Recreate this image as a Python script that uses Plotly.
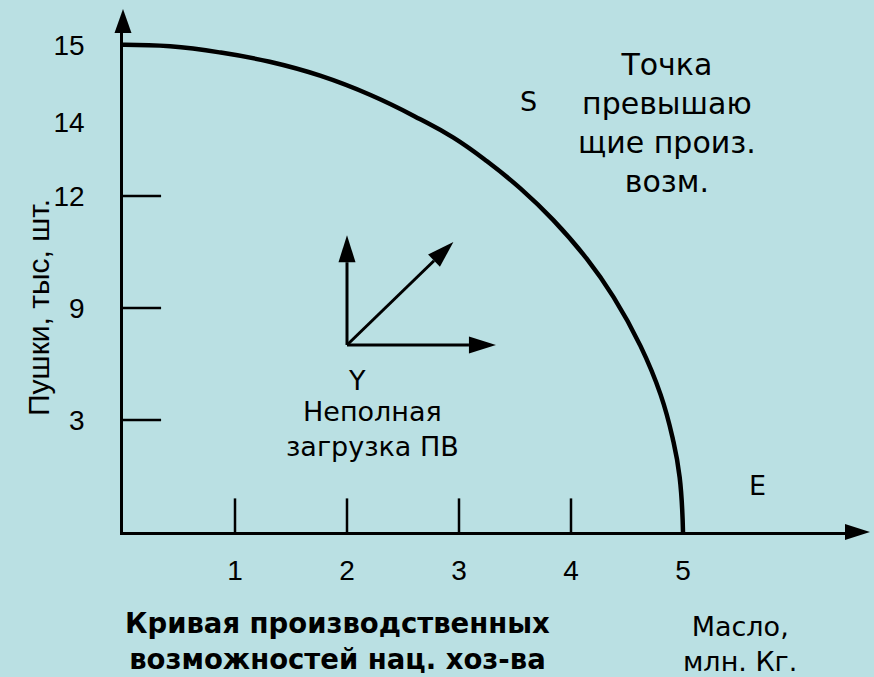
import numpy as np
import plotly.graph_objects as go

# ---------------- data ----------------
# production possibility curve: oil (mln kg) vs guns (thousand pcs)
oil = [0.0, 0.42, 0.87, 1.31, 1.76, 2.21, 2.65, 2.95, 3.25, 3.55, 3.84, 4.14,
       4.38, 4.62, 4.80, 4.91, 4.97, 5.0]
guns = [15.0, 14.98, 14.90, 14.78, 14.60, 14.35, 14.04, 13.58, 12.94, 12.20,
        11.36, 10.32, 9.29, 6.97, 4.36, 2.48, 1.47, 0.0]

oil_tick_vals = [1, 2, 3, 4, 5]
oil_tick_text = ["1", "2", "3", "4", "5"]
oil_tick_marks = [1, 2, 3, 4]

guns_tick_vals = [3, 9, 12, 14, 15]
guns_tick_text = ["3", "9", "12", "14", "15"]
guns_tick_marks = [3, 9, 12]

# the guns axis of the original is not linear: value -> axis position
guns_scale_vals = [0, 3, 9, 12, 14, 15]
guns_scale_pos = [0, 1, 2, 3, 3.66, 4.35]


def gpos(v):
    return np.interp(v, guns_scale_vals, guns_scale_pos)


# ---------------- geometry ----------------
FW, FH = 874, 677
L, T, R, B = 123, 30, 24, 145
W, H = FW - L - R, FH - T - B
UNIT = 112.0
BG = "#BAE0E3"
FONT = "Liberation Sans, Arial, sans-serif"
WFONT = "DejaVu Sans, Liberation Sans, sans-serif"


def px(x):
    return L + x * UNIT


def py(y):
    return T + H - y * UNIT


def pap_x(p):
    return (p - L) / W


def pap_y(p):
    return (T + H - p) / H


def tri_path(tip, vec, length, width):
    v = np.array(vec, float)
    v = v / np.linalg.norm(v)
    n = np.array([-v[1], v[0]])
    tip = np.array(tip, float)
    base = tip - v * length
    p1 = base + n * width / 2
    p2 = base - n * width / 2
    pts = [tip, p1, p2]
    s = "M " + " L ".join(f"{pap_x(p[0]):.5f},{pap_y(p[1]):.5f}" for p in pts) + " Z"
    return s, base


fig = go.Figure()

# curve
fig.add_trace(go.Scatter(
    x=oil, y=gpos(guns), mode="lines",
    line=dict(color="black", width=4.5, shape="spline", smoothing=1.3),
    cliponaxis=False, hoverinfo="skip", showlegend=False))

# tick marks
tx, ty = [], []
for t in oil_tick_marks:
    tx += [t, t, None]
    ty += [0, 0.30, None]
for g in guns_tick_marks:
    p = float(gpos(g))
    tx += [0, 0.34, None]
    ty += [p, p, None]
fig.add_trace(go.Scatter(
    x=tx, y=ty, mode="lines", line=dict(color="black", width=2.5),
    cliponaxis=False, hoverinfo="skip", showlegend=False))

shapes = []
# main axis arrowheads
path, _ = tri_path((L, 9), (0, -1), 24, 17)
shapes.append(dict(type="path", path=path, xref="paper", yref="paper",
                   fillcolor="black", line=dict(width=0)))
path, _ = tri_path((870, T + H), (1, 0), 25, 16)
shapes.append(dict(type="path", path=path, xref="paper", yref="paper",
                   fillcolor="black", line=dict(width=0)))

# small direction diagram
diag_origin = (2.0, 1.67)
diag_tips = [(2.0, 2.65), (3.33, 1.67), (2.95, 2.59)]
o = (px(diag_origin[0]), py(diag_origin[1]))
for tip in diag_tips:
    t = (px(tip[0]), py(tip[1]))
    vec = (t[0] - o[0], t[1] - o[1])
    path, base = tri_path(t, vec, 27, 17)
    shapes.append(dict(type="line", xref="paper", yref="paper",
                       x0=pap_x(o[0]), y0=pap_y(o[1]),
                       x1=pap_x(base[0]), y1=pap_y(base[1]),
                       line=dict(color="black", width=3)))
    shapes.append(dict(type="path", path=path, xref="paper", yref="paper",
                       fillcolor="black", line=dict(width=0)))

annotations = []


def note(text, cx, cy, size, bold=False, angle=0, family=WFONT):
    if bold:
        text = "<b>" + text + "</b>"
    annotations.append(dict(
        text=text, x=pap_x(cx), y=pap_y(cy), xref="paper", yref="paper",
        xanchor="center", yanchor="middle", showarrow=False, align="center",
        textangle=angle, font=dict(family=family, size=size, color="black")))


note("Точка<br>превышаю<br>щие произ.<br>возм.", 667, 123, 30)
note("S", 528, 102, 27)
note("Y", 357, 380, 27)
note("Неполная<br>загрузка ПВ", 372, 429, 27)
note("E", 757, 485, 27)
note("Кривая производственных<br>возможностей нац. хоз-ва", 337, 641, 27.5, bold=True)
note("Масло,<br>млн. Кг.", 740, 644, 27)
note("Пушки, тыс, шт.", 38, 308, 30, angle=-90, family=FONT)

fig.update_layout(
    width=FW, height=FH, autosize=False,
    margin=dict(l=L, r=R, t=T, b=B, pad=0),
    paper_bgcolor=BG, plot_bgcolor=BG,
    showlegend=False,
    shapes=shapes, annotations=annotations,
    font=dict(family=FONT, size=28, color="black"),
)
fig.update_xaxes(
    range=[0, W / UNIT], showgrid=False, zeroline=False,
    showline=True, linecolor="black", linewidth=2.5,
    tickvals=oil_tick_vals, ticktext=oil_tick_text, ticks="",
    ticklabelstandoff=12, tickfont=dict(family=FONT, size=28, color="black"),
    fixedrange=True)
fig.update_yaxes(
    range=[0, H / UNIT], showgrid=False, zeroline=False,
    showline=True, linecolor="black", linewidth=2.5,
    tickvals=list(gpos(guns_tick_vals)), ticktext=guns_tick_text, ticks="",
    ticklabelstandoff=30, tickfont=dict(family=FONT, size=28, color="black"),
    fixedrange=True)

fig.write_html(
    "out.html",
    config={"displayModeBar": False},
    post_script="document.body.style.margin='0px';"
                "document.body.style.background='" + BG + "';")
